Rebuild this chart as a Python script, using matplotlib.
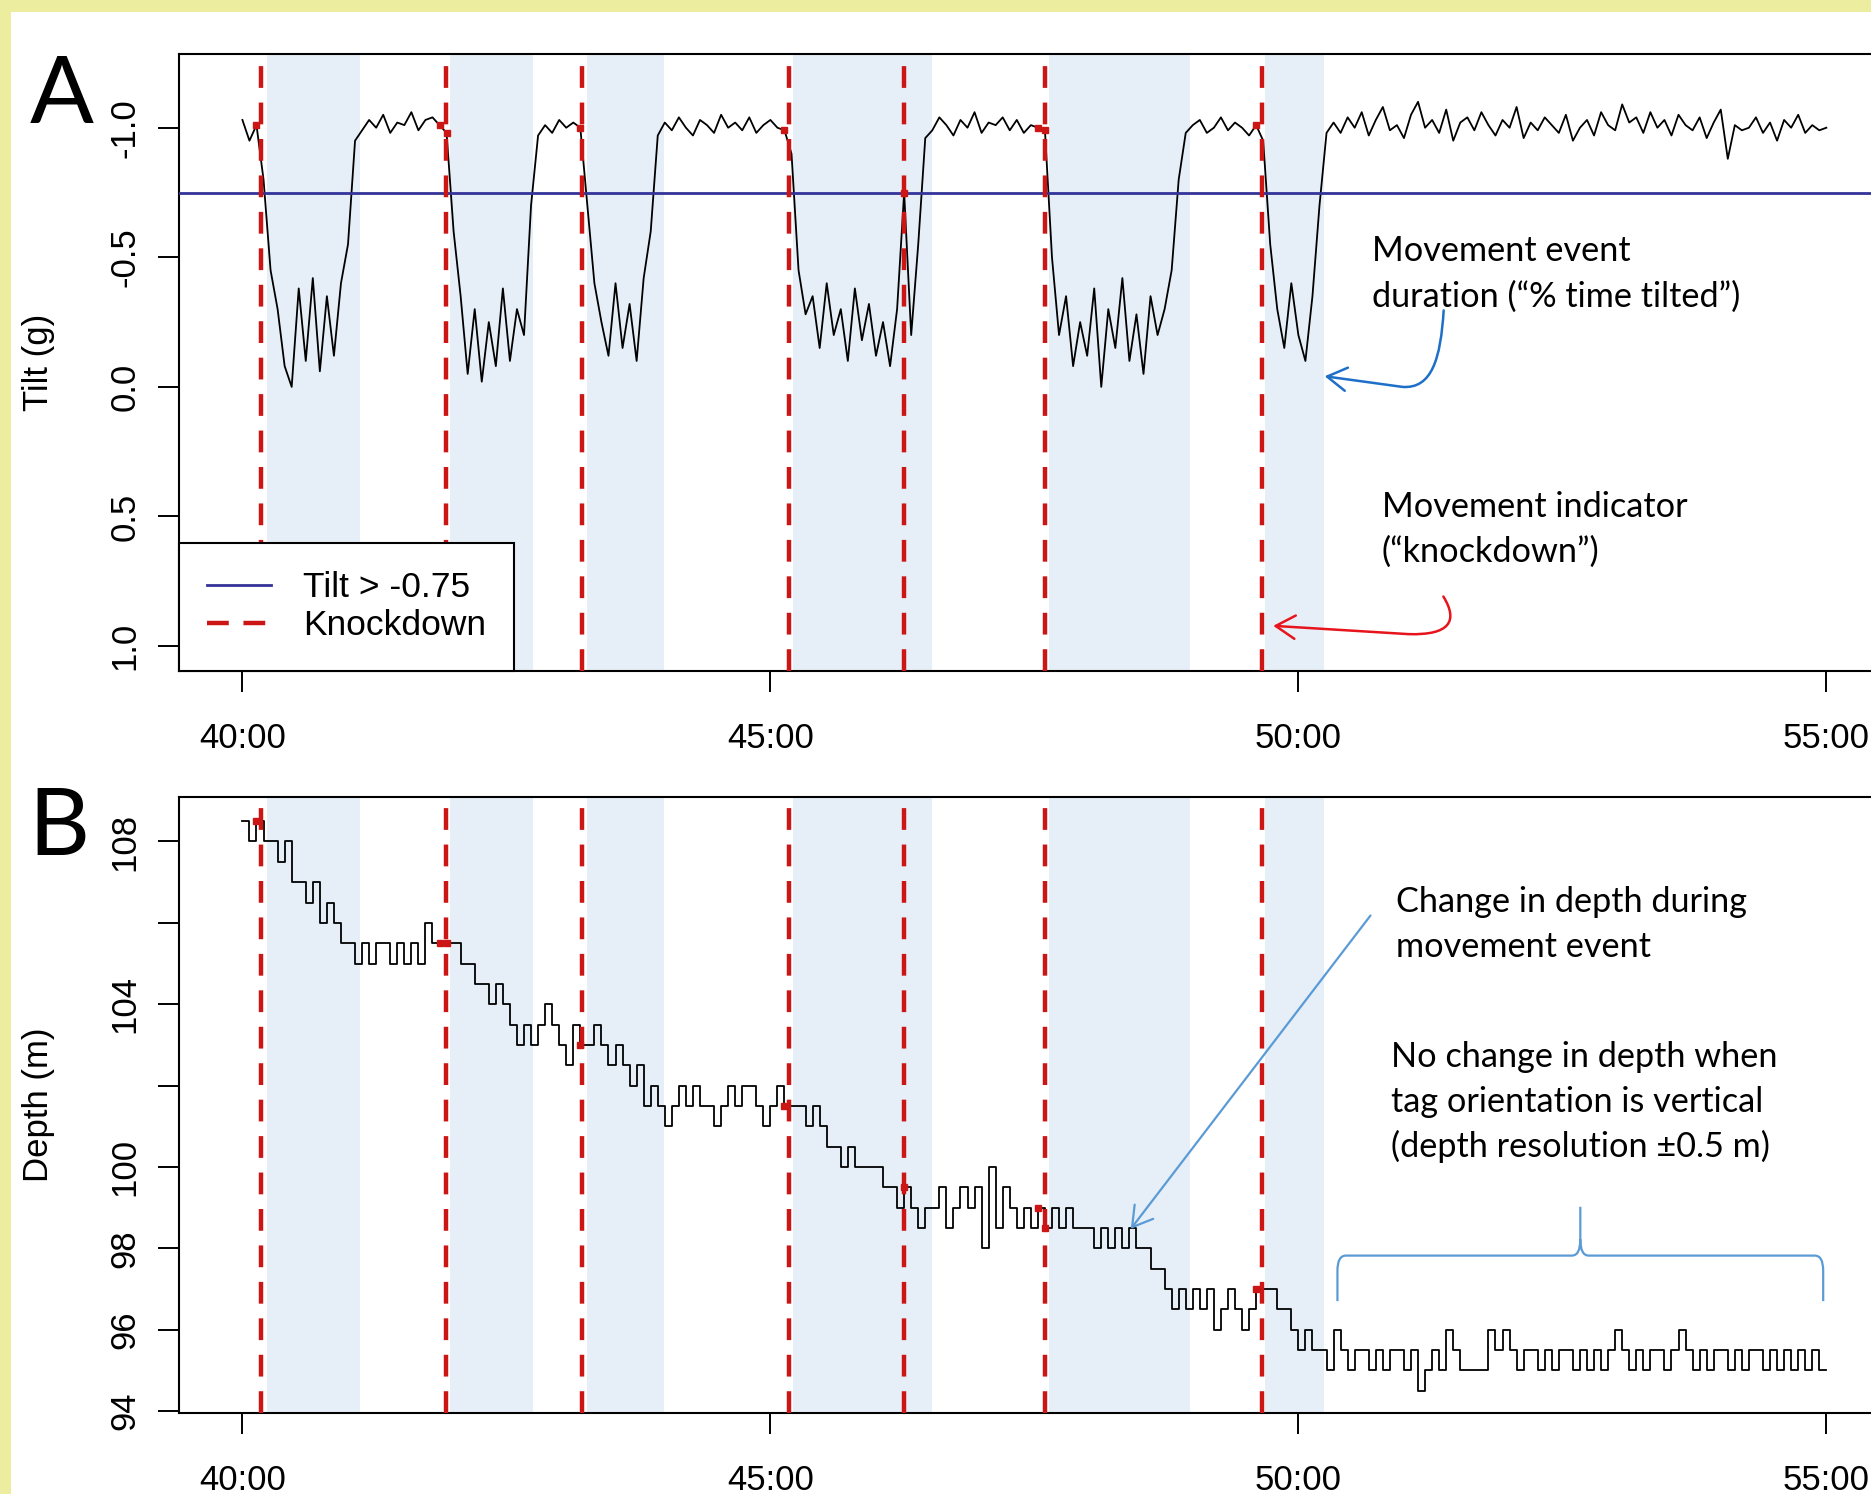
import numpy as np
import matplotlib
matplotlib.use("Agg")
import matplotlib.pyplot as plt
from matplotlib.path import Path
from matplotlib.patches import FancyArrowPatch, PathPatch, Rectangle
from matplotlib.lines import Line2D

##################################################
# 1. Data: one sample every 4 s, starting at 40:00
##################################################

start_min = 40.0
step_min = 4.0 / 60.0

# tilt (hundredths of g)
tilt_cg = [
    -103, -95, -101, -80, -45,
    -30, -8, 0, -38, -10, -42, -6, -35, -12, -40,
    -55, -95,
    -99, -103, -100, -105, -98, -102, -101, -106, -99, -103, -104, -101,
    -98, -60, -35,
    -5, -30, -2, -25, -8, -38, -10, -30, -20,
    -70, -97,
    -101, -98, -103, -100, -102,
    -100, -70, -40,
    -25, -12, -40, -15, -32, -10, -42,
    -60, -97,
    -102, -99, -104, -100, -97, -103, -101, -98, -105, -100, -102, -99, -104, -98, -101, -103, -100, -99,
    -90, -45,
    -28, -35, -15, -40, -20, -30, -10, -38, -18, -32, -12, -25, -8, -30,
    -75, -20, -55, -96,
    -99, -104, -101, -97, -103, -100, -106, -98, -102, -101, -104, -99, -103, -98, -101, -100,
    -99, -50,
    -20, -35, -8, -25, -12, -38, 0, -30, -15, -42, -10, -28, -5, -35, -20, -30,
    -45, -80, -98,
    -101, -103, -98, -100, -104, -99, -102, -100, -97, -101,
    -95, -55,
    -30, -15, -40, -20, -10, -35,
    -70, -98,
    -102, -98, -104, -100, -106, -97, -103, -108, -99, -101,
    -96, -105, -110, -100, -103, -98, -107, -95, -102, -104,
    -99, -106, -101, -97, -103, -100, -108, -96, -102, -99,
    -104, -101, -98, -105, -95, -100, -103, -97, -106, -101,
    -99, -109, -102, -104, -98, -106, -100, -103, -97, -105,
    -101, -99, -104, -96, -102, -107, -88, -101, -99, -100,
    -104, -98, -102, -95, -103, -100, -105, -98, -101, -99, -100,
]

# depth (m)
depth_m = [
    108.5, 108.0, 108.5, 108.0, 108.0, 107.5, 108.0, 107.0, 107.0, 106.5, 107.0, 106.0, 106.5, 106.0, 105.5, 105.5,
    105.0, 105.5, 105.0, 105.5, 105.5, 105.0, 105.5, 105.0, 105.5, 105.0, 106.0, 105.5, 105.5,
    105.5, 105.5, 105.0, 105.0, 104.5, 104.5, 104.0, 104.5, 104.0, 103.5,
    103.0, 103.5, 103.0, 103.5, 104.0, 103.5, 103.0, 102.5, 103.5, 103.0,
    103.0, 103.5, 103.0, 102.5, 103.0, 102.5, 102.0, 102.5, 101.5, 102.0,
    101.5, 101.0, 101.5, 102.0, 101.5, 102.0, 101.5, 101.5, 101.0, 101.5,
    102.0, 101.5, 102.0, 102.0, 101.5, 101.0, 101.5, 102.0, 101.5,
    101.5, 101.5, 101.0, 101.5, 101.0, 100.5, 100.5, 100.0, 100.5, 100.0,
    100.0, 100.0, 100.0, 99.5, 99.5, 99.0, 99.5, 99.0, 98.5, 99.0,
    99.0, 99.5, 98.5, 99.0, 99.5, 99.0, 99.5, 98.0, 100.0, 98.5,
    99.5, 99.0, 98.5, 99.0, 98.5, 99.0, 98.5,
    99.0, 98.5, 99.0, 98.5, 98.5, 98.5, 98.0, 98.5, 98.0, 98.5,
    98.0, 98.5, 98.0, 98.0, 97.5, 97.5, 97.0, 96.5, 97.0, 96.5,
    97.0, 96.5, 97.0, 96.0, 96.5, 97.0, 96.5, 96.0, 96.5, 97.0, 97.0,
    97.0, 96.5, 96.5, 96.0, 95.5, 96.0, 95.5, 95.5, 95.0,
    96.0, 95.5, 95.0, 95.5, 95.5, 95.0, 95.5, 95.0, 95.5, 95.5,
    95.0, 95.5, 94.5, 95.0, 95.5, 95.0, 96.0, 95.5, 95.0, 95.0,
    95.0, 95.0, 96.0, 95.5, 96.0, 95.5, 95.0, 95.5, 95.5, 95.0,
    95.5, 95.0, 95.5, 95.5, 95.0, 95.5, 95.0, 95.5, 95.0, 95.5,
    96.0, 95.5, 95.0, 95.5, 95.0, 95.5, 95.5, 95.0, 95.5, 96.0,
    95.5, 95.0, 95.5, 95.0, 95.5, 95.5, 95.0, 95.5, 95.0, 95.5,
    95.5, 95.0, 95.5, 95.0, 95.5, 95.0, 95.5, 95.0, 95.5, 95.0, 95.0,
]

knockdown_min = [40.18, 41.93, 43.22, 45.18, 46.27, 47.60, 49.66]
tilted_start_min = [40.23, 41.97, 43.26, 45.21, 47.64, 49.68]
tilted_end_min = [41.11, 42.75, 43.99, 46.53, 48.97, 50.24]
tilt_threshold = -0.75

x_ticks = [40, 45, 50, 55]
x_tick_labels = ["40:00", "45:00", "50:00", "55:00"]
tilt_ticks = [-1.0, -0.5, 0.0, 0.5, 1.0]
tilt_tick_labels = ["-1.0", "-0.5", "0.0", "0.5", "1.0"]
depth_ticks = [94, 96, 98, 100, 102, 104, 106, 108]
depth_tick_labels = ["94", "96", "98", "100", "", "104", "", "108"]

KD_RED = "#CC1616"
SHADE = "#E6EFF8"
THR_BLUE = "#333399"
ANNOT_FONT = ["Lato", "DejaVu Sans"]
ANNOT_SIZE = 24.7

##################################################
# 2. Figure
##################################################

tilt = np.array(tilt_cg) / 100.0
depth = np.array(depth_m)
t_tilt = start_min + step_min * np.arange(len(tilt))
t_depth = start_min + step_min * np.arange(len(depth))

plt.rcParams["font.family"] = ["Liberation Sans", "DejaVu Sans"]
fig = plt.figure(figsize=(18.71, 14.94), dpi=100)

# yellow slide frame
fig.patches.append(Rectangle((0, 0), 0.0057, 1, transform=fig.transFigure,
                             facecolor="#EDED9F", edgecolor="none", zorder=-10))
fig.patches.append(Rectangle((0, 0.992), 1, 0.008, transform=fig.transFigure,
                             facecolor="#EDED9F", edgecolor="none", zorder=-10))

axA = fig.add_axes([0.0957, 0.5511, 0.9143, 0.4125])
axB = fig.add_axes([0.0957, 0.0542, 0.9143, 0.4125])


def style_axes(ax):
    for s in ax.spines.values():
        s.set_linewidth(1.5)
    ax.set_xlim(39.4, 55.6)
    ax.set_xticks(x_ticks)
    ax.set_xticklabels(x_tick_labels)
    ax.tick_params(axis="both", length=15, width=1.4, labelsize=25)
    ax.tick_params(axis="x", pad=22)
    ax.tick_params(axis="y", pad=12)
    for s, e in zip(tilted_start_min, tilted_end_min):
        ax.axvspan(s, e, color=SHADE, lw=0, zorder=0)
    for k in knockdown_min:
        ax.axvline(k, color=KD_RED, lw=3.2, ls=(0, (4.9, 3.3)), zorder=4)


def knockdown_marks(ax, t, y):
    for k in knockdown_min:
        sel = (t > k - 0.07) & (t <= k + 0.005)
        ax.plot(t[sel], y[sel], "s", color=KD_RED, ms=5, zorder=3)


# ---- panel A: tilt
style_axes(axA)
axA.plot(t_tilt, tilt, color="black", lw=1.3, zorder=2)
axA.axhline(tilt_threshold, color=THR_BLUE, lw=2, zorder=3)
knockdown_marks(axA, t_tilt, tilt)
axA.set_ylim(1.095, -1.283)
axA.set_yticks(tilt_ticks)
axA.set_yticklabels(tilt_tick_labels)
plt.setp(axA.get_yticklabels(), rotation=90, va="center")
axA.set_ylabel("Tilt (g)", fontsize=25)
axA.yaxis.set_label_coords(-0.0725, 0.5)

handles = [Line2D([], [], color=THR_BLUE, lw=2),
           Line2D([], [], color=KD_RED, lw=3.2, ls=(0, (4.9, 3.3)))]
leg = axA.legend(handles, [f"Tilt > {tilt_threshold}", "Knockdown"],
                 loc="lower left", bbox_to_anchor=(0, 0), borderaxespad=0,
                 fancybox=False, edgecolor="black", framealpha=1, fontsize=25.5,
                 handlelength=1.8, handletextpad=0.9, labelspacing=0.15, borderpad=0.8)
leg.get_frame().set_linewidth(1.5)
leg.set_zorder(6)

# ---- panel B: depth
style_axes(axB)
axB.plot(t_depth, depth, color="black", lw=1.3, drawstyle="steps-post", zorder=2)
knockdown_marks(axB, t_depth, depth)
axB.set_ylim(93.95, 109.1)
axB.set_yticks(depth_ticks)
axB.set_yticklabels(depth_tick_labels)
plt.setp(axB.get_yticklabels(), rotation=90, va="center")
axB.set_ylabel("Depth (m)", fontsize=25)
axB.yaxis.set_label_coords(-0.0725, 0.5)

# panel letters
fig.text(0.016, 0.918, "A", fontsize=68, family=ANNOT_FONT, ha="left", va="baseline")
fig.text(0.015, 0.4277, "B", fontsize=68, family=ANNOT_FONT, ha="left", va="baseline")

##################################################
# 3. Annotations
##################################################

def note(ax, x, ys, lines):
    for y, s in zip(ys, lines):
        ax.text(x, y, s, fontsize=ANNOT_SIZE, family=ANNOT_FONT, ha="left", va="baseline", zorder=7)


note(axA, 50.70, [-0.484, -0.309], ["Movement event", "duration (\u201c% time tilted\u201d)"])
note(axA, 50.79, [0.502, 0.676], ["Movement indicator", "(\u201cknockdown\u201d)"])
note(axB, 50.92, [106.27, 105.16], ["Change in depth during", "movement event"])
note(axB, 50.88, [102.46, 101.35, 100.24],
     ["No change in depth when", "tag orientation is vertical", "(depth resolution \u00b10.5 m)"])

head = "->,head_length=0.5,head_width=0.3"

blue_curve = Path([(51.376, -0.295), (51.347, -0.111), (51.267, 0.009), (50.984, 0.0), (50.249, -0.041)],
                  [Path.MOVETO, Path.CURVE4, Path.CURVE4, Path.CURVE4, Path.LINETO])
axA.add_patch(FancyArrowPatch(path=blue_curve, arrowstyle=head, mutation_scale=28,
                              color="#1E6FC8", lw=1.8, transform=axA.transData, zorder=7))

red_curve = Path([(51.373, 0.809), (51.516, 0.903), (51.437, 0.959), (51.041, 0.954), (49.762, 0.922)],
                 [Path.MOVETO, Path.CURVE4, Path.CURVE4, Path.CURVE4, Path.LINETO])
axA.add_patch(FancyArrowPatch(path=red_curve, arrowstyle=head, mutation_scale=28,
                              color="#E8141C", lw=1.8, transform=axA.transData, zorder=7))

axB.add_patch(FancyArrowPatch((50.683, 106.18), (48.413, 98.476), arrowstyle=head, mutation_scale=28,
                              color="#5B9BD5", lw=1.6, shrinkA=0, shrinkB=0, zorder=7))

# curly brace over the flat part
xL, xR, xM, yH = 50.37, 54.97, 52.67, 97.82
brace = Path([(xL, 96.70), (xL, yH - 0.37), (xL, yH), (xL + 0.08, yH),
              (xM - 0.08, yH), (xM, yH), (xM, yH + 0.4), (xM, 99.02),
              (xM, yH + 0.4), (xM, yH), (xM + 0.08, yH),
              (xR - 0.08, yH), (xR, yH), (xR, yH - 0.37), (xR, 96.70)],
             [Path.MOVETO, Path.LINETO, Path.CURVE3, Path.CURVE3,
              Path.LINETO, Path.CURVE3, Path.CURVE3, Path.LINETO,
              Path.MOVETO, Path.CURVE3, Path.CURVE3,
              Path.LINETO, Path.CURVE3, Path.CURVE3, Path.LINETO])
axB.add_patch(PathPatch(brace, fill=False, edgecolor="#5B9BD5", lw=1.6, zorder=7))

fig.savefig("out.png", dpi=100)
